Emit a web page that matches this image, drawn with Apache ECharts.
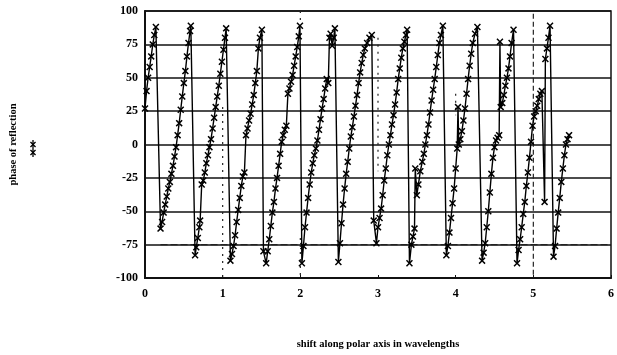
<!DOCTYPE html>
<html>
<head>
<meta charset="utf-8">
<script src="https://cdn.jsdelivr.net/npm/echarts@6/dist/echarts.min.js"></script>
<style>
html,body{margin:0;padding:0;background:#fff;}
#chart{width:617px;height:355px;}
</style>
</head>
<body>
<div id="chart"></div>
<script>
// ---- data ----
const shiftVals = [
  0.00,0.02,0.04,0.06,0.08,0.10,0.12,0.14,
  0.20,0.22,0.24,0.26,0.28,0.30,0.32,0.34,0.36,0.38,0.40,0.42,0.44,0.46,0.48,0.50,0.52,0.54,0.56,0.58,0.59,
  0.645,0.66,0.68,0.70,0.71,0.73,0.75,0.77,0.79,0.81,0.83,0.85,0.87,0.89,0.91,0.93,0.95,0.97,0.99,1.01,1.03,1.045,
  1.10,1.12,1.14,1.16,1.18,1.20,1.22,1.24,1.26,1.28,1.30,1.32,1.34,1.36,1.38,1.40,1.42,1.44,1.46,1.48,1.505,
  1.525,1.56,1.58,1.60,1.62,1.64,1.66,1.68,1.70,1.72,1.74,1.76,1.78,1.80,1.82,1.84,1.86,1.88,1.90,1.92,1.94,1.96,1.98,1.995,
  2.02,2.04,2.06,2.08,2.10,2.12,2.14,2.16,2.18,2.20,2.22,2.24,2.26,2.28,2.30,2.32,2.34,2.36,2.375,2.39,2.41,2.43,2.445,
  2.49,2.51,2.53,2.55,2.57,2.59,2.61,2.63,2.65,2.67,2.69,2.71,2.73,2.75,2.77,2.79,2.81,2.83,2.86,2.89,2.92,
  2.945,2.98,3.00,3.02,3.04,3.06,3.08,3.10,3.12,3.14,3.16,3.18,3.20,3.22,3.24,3.26,3.28,3.30,3.32,3.34,3.36,3.375,
  3.405,3.43,3.45,3.47,3.48,3.50,3.52,3.545,3.57,3.59,3.61,3.63,3.65,3.67,3.69,3.71,3.73,3.75,3.77,3.79,3.81,3.835,
  3.88,3.90,3.92,3.94,3.96,3.98,4.00,4.02,4.03,4.04,4.06,4.08,4.10,4.12,4.14,4.16,4.18,4.20,4.22,4.25,4.28,
  4.34,4.36,4.38,4.40,4.42,4.44,4.46,4.48,4.50,4.52,4.54,4.56,4.57,4.58,4.60,4.62,4.64,4.66,4.68,4.70,4.72,4.745,
  4.79,4.81,4.83,4.85,4.87,4.89,4.91,4.93,4.95,4.97,4.99,5.01,5.03,5.05,5.07,5.09,5.11,5.145,5.155,5.175,5.195,5.215,
  5.26,5.28,5.30,5.32,5.34,5.36,5.38,5.40,5.42,5.44,5.46
];
const phaseVals = [
  27,40,50,58,66,75,82,88,
  -63,-58,-51,-45,-39,-33,-28,-22,-16,-9,-2,7,16,26,36,46,55,66,76,85,89,
  -83,-77,-70,-62,-57,-30,-27,-21,-14,-8,-2,4,12,20,28,36,44,53,62,71,80,87,
  -87,-82,-76,-68,-58,-49,-40,-31,-24,-21,7,12,18,23,30,37,46,55,72,80,86,
  -80,-89,-80,-71,-61,-51,-43,-33,-25,-16,-7,2,7,11,14,38,42,47,52,59,66,73,81,89,
  -89,-76,-62,-51,-40,-30,-21,-14,-8,-3,3,11,19,27,34,42,49,46,80,83,74,80,87,
  -88,-74,-59,-45,-33,-22,-13,-3,6,13,21,29,37,46,54,61,67,72,76,80,82,
  -57,-74,-62,-55,-48,-38,-27,-18,-8,0,7,15,22,30,39,49,57,65,72,77,82,86,
  -89,-75,-69,-63,-18,-38,-30,-20,-13,-7,0,7,15,24,33,41,49,58,67,76,82,89,
  -83,-76,-66,-55,-44,-33,-18,-3,28,0,4,10,18,27,38,49,59,68,76,83,88,
  -87,-81,-74,-62,-50,-36,-22,-10,-2,3,5,7,77,28,31,37,44,50,57,66,76,86,
  -89,-79,-71,-62,-52,-43,-31,-21,-10,2,14,21,25,29,34,38,40,-43,64,72,80,89,
  -84,-76,-63,-51,-40,-28,-18,-8,0,4,7
];
// dashed reference level
const refLevel = -75;
const refFrom = 0.2;
const refTo = 6;
// dotted vertical guide segments
const guideShift  = [1, 2, 2, 3, 4, 5];
const guideTop    = [28, 100, -70, 80, 38, 98];
const guideBottom = [-100, 92, -100, -20, 22, -100];
// axis ticks
const xTicks = [0, 1, 2, 3, 4, 5, 6];
const yTicks = [-100, -75, -50, -25, 0, 25, 50, 75, 100];

const crossPath = 'path://M0,1.5L1.5,0L5,3.5L8.5,0L10,1.5L6.5,5L10,8.5L8.5,10L5,6.5L1.5,10L0,8.5L3.5,5Z';
const crossPts = [[0,1.5],[1.5,0],[5,3.5],[8.5,0],[10,1.5],[6.5,5],[10,8.5],[8.5,10],[5,6.5],[1.5,10],[0,8.5],[3.5,5]];
const font = 'Liberation Serif';

const mainData = shiftVals.map((x, i) => [x, phaseVals[i]]);

const guideSeries = guideShift.map((x, i) => ({
  type: 'line',
  data: [[x, guideTop[i]], [x, guideBottom[i]]],
  symbol: 'none',
  silent: true,
  z: 1,
  lineStyle: { color: '#222', width: 1.2, type: x === 5 ? [5, 3] : [2, 5] }
}));

function crossAt(ox, oy, s) {
  return { type: 'polygon', shape: { points: crossPts.map(p => [ox + p[0] * s, oy + p[1] * s]) }, style: { fill: '#000' } };
}

const chart = echarts.init(document.getElementById('chart'), null, { renderer: 'canvas' });
chart.setOption({
  animation: false,
  backgroundColor: '#fff',
  grid: {
    left: 139, right: 5, top: 11, bottom: 73.5,
    show: true, borderColor: '#111', borderWidth: 1.5, backgroundColor: 'transparent'
  },
  xAxis: {
    type: 'value',
    min: xTicks[0], max: xTicks[xTicks.length - 1], interval: 1,
    name: 'shift along polar axis in wavelengths',
    nameLocation: 'middle', nameGap: 61,
    nameTextStyle: { fontFamily: font, fontWeight: 'bold', fontSize: 10.5, color: '#000' },
    axisLine: { show: true, onZero: false, lineStyle: { color: '#111', width: 2 } },
    axisTick: { show: true, inside: true, length: 3, lineStyle: { color: '#111' } },
    axisLabel: { fontFamily: font, fontWeight: 'bold', fontSize: 12, color: '#000', margin: 10 },
    splitLine: { show: false }
  },
  yAxis: {
    type: 'value',
    min: yTicks[0], max: yTicks[yTicks.length - 1], interval: 25,
    name: 'phase of reflection',
    nameLocation: 'middle', nameGap: 126, nameRotate: 90,
    nameTextStyle: { fontFamily: font, fontWeight: 'bold', fontSize: 10.5, color: '#000' },
    axisLine: { show: true, lineStyle: { color: '#111', width: 2 } },
    axisTick: { show: false },
    axisLabel: { fontFamily: font, fontWeight: 'bold', fontSize: 12, color: '#000', margin: 7 },
    splitLine: { show: true, lineStyle: { color: '#111', width: 1.6 } }
  },
  series: [
    {
      type: 'line',
      data: [[refFrom, refLevel], [refTo, refLevel]],
      symbol: 'none', silent: true, z: 1,
      lineStyle: { color: '#222', width: 1.2, type: [7, 3] }
    },
    ...guideSeries,
    {
      name: 'phase',
      type: 'line',
      data: mainData,
      z: 3,
      symbol: crossPath,
      symbolSize: 7,
      showAllSymbol: true,
      itemStyle: { color: '#000' },
      lineStyle: { color: '#000', width: 1.4 }
    }
  ],
  graphic: [
    { type: 'line', shape: { x1: 33, y1: 140, x2: 33, y2: 157 }, style: { stroke: '#000', lineWidth: 1.3 } },
    crossAt(30, 141.5, 0.6),
    crossAt(30, 149.5, 0.6)
  ]
});
</script>
</body>
</html>
